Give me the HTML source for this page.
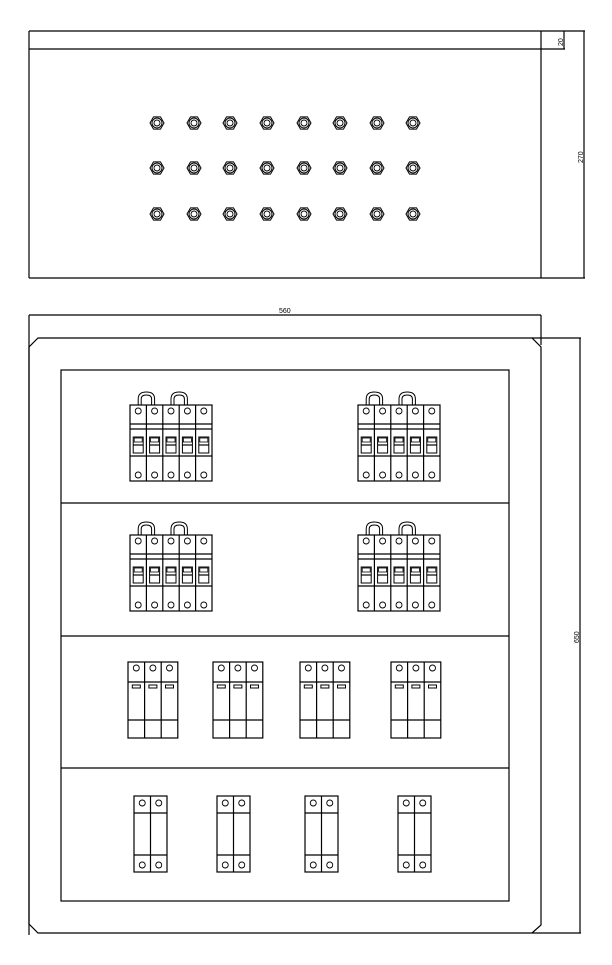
<!DOCTYPE html>
<html><head><meta charset="utf-8"><style>
html,body{margin:0;padding:0;background:#fff;}
svg{display:block;}
text{font-family:"Liberation Sans",sans-serif;font-size:7px;fill:#000;}
</style></head><body>
<svg id="s" width="612" height="965" viewBox="0 0 612 965" xmlns="http://www.w3.org/2000/svg" fill="none" stroke="#000" stroke-width="1.2">
<line x1="29" y1="31" x2="585" y2="31"/>
<line x1="29" y1="49" x2="565" y2="49"/>
<line x1="29" y1="278" x2="585" y2="278"/>
<line x1="29" y1="31" x2="29" y2="278"/>
<line x1="541" y1="31" x2="541" y2="278"/>
<line x1="584" y1="31" x2="584" y2="278"/>
<line x1="564" y1="31" x2="564" y2="49"/>
<text x="0" y="0" stroke="none" transform="translate(563,46) rotate(-90)">20</text>
<text x="0" y="0" stroke="none" transform="translate(583,163) rotate(-90)">270</text>
<line x1="29" y1="315" x2="541" y2="315"/>
<text x="279" y="313" stroke="none">560</text>
<line x1="29" y1="315" x2="29" y2="935"/>
<line x1="541" y1="315" x2="541" y2="345"/>
<path d="M38 338 L532 338 L541 347 L541 925 L532 933 L38 933 L29 924 L29 347 Z"/>
<line x1="532" y1="338" x2="581" y2="338"/>
<line x1="532" y1="933" x2="581" y2="933"/>
<line x1="580" y1="338" x2="580" y2="933"/>
<text x="0" y="0" stroke="none" transform="translate(579,643) rotate(-90)">650</text>
<rect x="61" y="370" width="448" height="531"/>
<line x1="61" y1="503" x2="509" y2="503"/>
<line x1="61" y1="636" x2="509" y2="636"/>
<line x1="61" y1="768" x2="509" y2="768"/>
<g id="g"></g>
</svg>
<script>
var g=document.getElementById('g'),h='';
function L(a,b,c,d){h+='<line x1="'+a+'" y1="'+b+'" x2="'+c+'" y2="'+d+'"/>';}
function C(x,y,r,w){h+='<circle cx="'+x+'" cy="'+y+'" r="'+r+'"'+(w?' stroke-width="'+w+'"':'')+'/>';}
function R(x,y,w,hh,sw){h+='<rect x="'+x+'" y="'+y+'" width="'+w+'" height="'+hh+'"'+(sw?' stroke-width="'+sw+'"':'')+'/>';}
var xs=[157,194,230,267,304,340,377,413],ys=[123,168,214];
xs.forEach(function(x){ys.forEach(function(y){
 var p='';for(var i=0;i<6;i++){var a=Math.PI/3*i;p+=(x+7*Math.cos(a)).toFixed(1)+','+(y+7*Math.sin(a)).toFixed(1)+' ';}
 h+='<polygon points="'+p+'" stroke-width="1"/>';C(x,y,5,1);C(x,y,3,0.9);
});});
function fourP(x0,y0){var w=16.4;
 R(x0,y0,w*5,76);
 for(var i=1;i<5;i++)L(x0+w*i,y0,x0+w*i,y0+76);
 L(x0,y0+19,x0+w*5,y0+19);L(x0,y0+24,x0+w*5,y0+24);L(x0,y0+51,x0+w*5,y0+51);
 for(var i=0;i<5;i++){var cx=x0+w*i+w/2;C(cx,y0+6,3,0.9);C(cx,y0+70,3,0.9);
  R(cx-5,y0+32,10,16,1);R(cx-4,y0+33,8,4,0.8);L(cx-5,y0+40,cx+5,y0+40);}
 [[0,1],[2,3]].forEach(function(p){var a=x0+w*p[0]+w/2,b=x0+w*p[1]+w/2;
  h+='<path d="M'+a+' '+y0+' L'+a+' '+(y0-6)+' Q'+a+' '+(y0-13)+' '+((a+b)/2)+' '+(y0-13)+' Q'+b+' '+(y0-13)+' '+b+' '+(y0-6)+' L'+b+' '+y0+'" stroke-width="1"/>';
  h+='<path d="M'+(a+3)+' '+y0+' L'+(a+3)+' '+(y0-6)+' Q'+(a+3)+' '+(y0-10)+' '+((a+b)/2)+' '+(y0-10)+' Q'+(b-3)+' '+(y0-10)+' '+(b-3)+' '+(y0-6)+' L'+(b-3)+' '+y0+'" stroke-width="1"/>';});
}
fourP(130,405);fourP(358,405);fourP(130,535);fourP(358,535);
[128,213,300,391].forEach(function(x0){var w=16.6;
 R(x0,662,w*3,76);for(var i=1;i<3;i++)L(x0+w*i,662,x0+w*i,738);
 L(x0,682,x0+w*3,682);L(x0,720,x0+w*3,720);
 for(var i=0;i<3;i++){var cx=x0+w*i+w/2;C(cx,668,3,0.9);R(cx-4,685,8,3,1);}
});
[134,217,305,398].forEach(function(x0){var w=16.5;
 R(x0,796,w*2,76);L(x0+w,796,x0+w,872);L(x0,813,x0+w*2,813);L(x0,855,x0+w*2,855);
 for(var i=0;i<2;i++){var cx=x0+w*i+w/2;C(cx,803,3,0.9);C(cx,865,3,0.9);}
});
g.innerHTML=h;
</script>
</body></html>
